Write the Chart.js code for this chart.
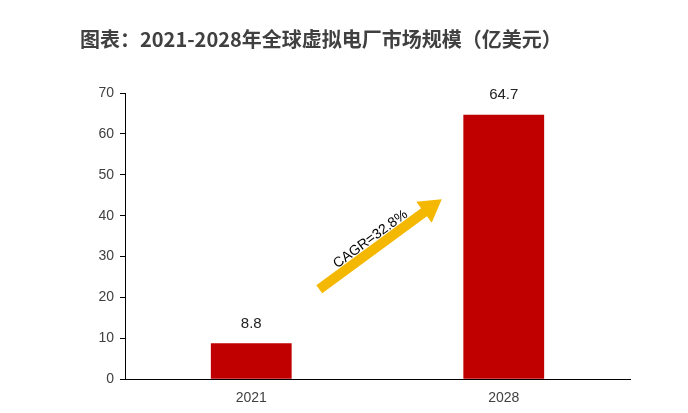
<!DOCTYPE html>
<html>
<head>
<meta charset="utf-8">
<script src="https://cdn.jsdelivr.net/npm/chart.js@4"></script>
<style>
	html, body { margin: 0; padding: 0; background: #ffffff; }
	#wrap { width: 688px; height: 413px; }
</style>
</head>
<body>
<div id="wrap"><canvas id="chartPreview"></canvas></div>
<script>
	const years = ['2021', '2028'];
	const marketSize = [8.8, 64.7];
	const yTicks = [0, 10, 20, 30, 40, 50, 60, 70];
	const cagrText = 'CAGR=32.8%';

	// gold arrow between the bars
	const cagrArrow = {
		id: 'cagrArrow',
		afterDatasetsDraw(chart) {
			const ctx = chart.ctx;
			const x = chart.scales.x, y = chart.scales.y;
			const x0 = x.getPixelForValue(0) + 68, y0 = y.getPixelForValue(22);
			const x1 = x.getPixelForValue(1) - 62, y1 = y.getPixelForValue(44);
			const ang = Math.atan2(y1 - y0, x1 - x0);
			const len = Math.hypot(x1 - x0, y1 - y0);
			ctx.save();
			ctx.translate(x0, y0);
			ctx.rotate(ang);
			ctx.fillStyle = '#F5B800';
			ctx.beginPath();
			ctx.moveTo(0, -5);
			ctx.lineTo(len - 22, -5);
			ctx.lineTo(len - 22, -13);
			ctx.lineTo(len, 0);
			ctx.lineTo(len - 22, 13);
			ctx.lineTo(len - 22, 5);
			ctx.lineTo(0, 5);
			ctx.closePath();
			ctx.fill();
			ctx.fillStyle = '#000000';
			ctx.font = '14px "Liberation Sans", Arial, sans-serif';
			ctx.textAlign = 'center';
			ctx.textBaseline = 'bottom';
			ctx.fillText(cagrText, len / 2 - 5, -3);
			ctx.restore();
		}
	};

	const barLabels = {
		id: 'barLabels',
		afterDatasetsDraw(chart) {
			const ctx = chart.ctx;
			const meta = chart.getDatasetMeta(0);
			ctx.save();
			ctx.fillStyle = '#222222';
			ctx.font = '15px "Liberation Sans", Arial, sans-serif';
			ctx.textAlign = 'center';
			ctx.textBaseline = 'bottom';
			meta.data.forEach(function (bar, i) {
				ctx.fillText(String(marketSize[i]), bar.x, bar.y - 12);
			});
			ctx.restore();
		}
	};

	const chart = new Chart(document.getElementById('chartPreview').getContext('2d'), {
		type: 'bar',
		data: {
			labels: years,
			datasets: [{
				data: marketSize,
				backgroundColor: '#C00000',
				barPercentage: 0.32,
				categoryPercentage: 1
			}]
		},
		options: {
			responsive: true,
			maintainAspectRatio: false,
			animation: false,
			layout: { padding: { left: 80, right: 58, top: 10, bottom: 3 } },
			plugins: {
				legend: { display: false },
				tooltip: { enabled: false },
				title: {
					display: true,
					text: '图表：2021-2028年全球虚拟电厂市场规模（亿美元）',
					align: 'start',
					color: '#404040',
					font: { size: 20, weight: 'bold', family: '"Noto Sans CJK SC", sans-serif' },
					padding: { top: 17, bottom: 42 }
				}
			},
			scales: {
				x: {
					grid: { display: false },
					border: { color: '#000000' },
					ticks: { color: '#404040', font: { size: 14, family: '"Liberation Sans", Arial' } }
				},
				y: {
					min: 0,
					max: 70,
					afterBuildTicks(axis) { axis.ticks = yTicks.map(v => ({ value: v })); },
					afterFit(axis) { axis.width = 45; },
					grid: { drawOnChartArea: false, drawTicks: true, tickLength: 5, color: '#000000' },
					border: { color: '#000000' },
					ticks: { color: '#404040', padding: 6, font: { size: 14, family: '"Liberation Sans", Arial' } }
				}
			}
		},
		plugins: [cagrArrow, barLabels]
	});
</script>
</body>
</html>
